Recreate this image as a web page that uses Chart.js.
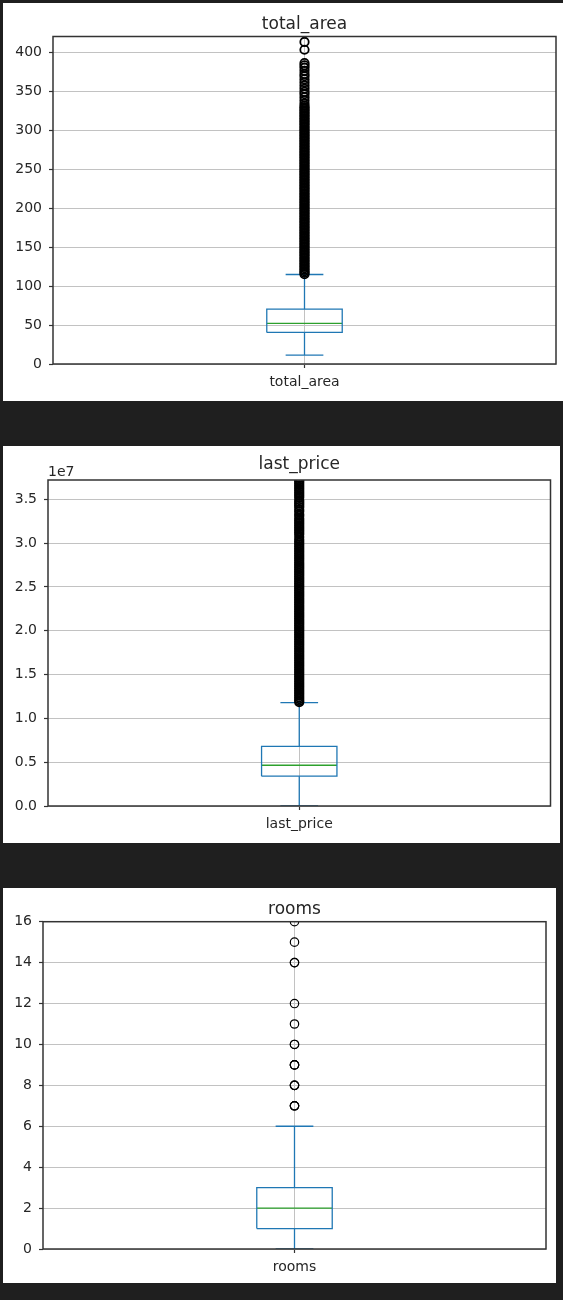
<!DOCTYPE html>
<html><head><meta charset="utf-8">
<script src="https://cdn.jsdelivr.net/npm/chart.js@4.4.1/dist/chart.umd.min.js"></script>
<style>
html,body{margin:0;padding:0;background:#1f1f1f;width:563px;height:1300px;overflow:hidden}
.panel{position:absolute;background:#ffffff}
canvas{display:block}
</style></head><body>
<div class="panel" style="left:3px;top:3px;width:560px;height:398px"><canvas id="c1" width="560" height="398"></canvas></div>
<div class="panel" style="left:3px;top:446px;width:557px;height:397px"><canvas id="c2" width="557" height="397"></canvas></div>
<div class="panel" style="left:3px;top:888px;width:553px;height:395px"><canvas id="c3" width="553" height="395"></canvas></div>
<script>
// ---------- data ----------
// stats order: lower whisker, Q1, median, Q3, upper whisker
const AREA_LABEL = 'total_area';
const AREA_STATS = [11.5, 40.5, 52, 70.5, 114.8];
const AREA_OUTLIERS = [115.2, 117, 119, 121, 123, 125, 127, 129, 131, 133, 135, 137, 139, 141, 143, 145, 147, 149, 151, 153, 155, 157, 159, 161, 163, 165, 167, 169, 171, 173, 175, 177, 179, 181, 183, 185, 187, 189, 191, 193, 195, 197, 199, 201, 203, 205, 207, 209, 211, 213, 215, 217, 219, 221, 223, 225, 227, 229, 231, 233, 235, 237, 239, 241, 243, 245, 247, 249, 251, 253, 255, 257, 259, 261, 263, 265, 267, 269, 271, 273, 275, 277, 279, 281, 283, 285, 287, 289, 291, 293, 295, 297, 299, 301, 303, 305, 307, 309, 311, 313, 315, 317, 319, 321, 323, 325, 327, 329, 331, 334, 338, 342, 346, 349, 353, 357, 361, 365, 369, 372, 376, 380, 383, 386, 403, 413];
const AREA_TICKS = [0, 50, 100, 150, 200, 250, 300, 350, 400];
const AREA_RANGE = [0, 420];

const PRICE_LABEL = 'last_price';
const PRICE_STATS = [1.219e4, 3.4e6, 4.65e6, 6.8e6, 1.18e7];
const PRICE_OUTLIERS = [1.185e7, 1.2e7, 1.22e7, 1.24e7, 1.26e7, 1.28e7, 1.3e7, 1.32e7, 1.34e7, 1.36e7, 1.38e7, 1.4e7, 1.42e7, 1.44e7, 1.46e7, 1.48e7, 1.5e7, 1.52e7, 1.54e7, 1.56e7, 1.58e7, 1.6e7, 1.62e7, 1.64e7, 1.66e7, 1.68e7, 1.7e7, 1.72e7, 1.74e7, 1.76e7, 1.78e7, 1.8e7, 1.82e7, 1.84e7, 1.86e7, 1.88e7, 1.9e7, 1.92e7, 1.94e7, 1.96e7, 1.98e7, 2e7, 2.02e7, 2.04e7, 2.06e7, 2.08e7, 2.1e7, 2.12e7, 2.14e7, 2.16e7, 2.18e7, 2.2e7, 2.22e7, 2.24e7, 2.26e7, 2.28e7, 2.3e7, 2.32e7, 2.34e7, 2.36e7, 2.38e7, 2.4e7, 2.42e7, 2.44e7, 2.46e7, 2.48e7, 2.5e7, 2.52e7, 2.54e7, 2.56e7, 2.58e7, 2.6e7, 2.62e7, 2.64e7, 2.66e7, 2.68e7, 2.7e7, 2.72e7, 2.74e7, 2.76e7, 2.78e7, 2.8e7, 2.82e7, 2.84e7, 2.86e7, 2.88e7, 2.9e7, 2.92e7, 2.94e7, 2.96e7, 2.98e7, 3e7, 3.02e7, 3.04e7, 3.07e7, 3.1e7, 3.12e7, 3.14e7, 3.16e7, 3.18e7, 3.2e7, 3.22e7, 3.24e7, 3.26e7, 3.28e7, 3.31e7, 3.33e7, 3.36e7, 3.38e7, 3.41e7, 3.43e7, 3.45e7, 3.47e7, 3.49e7, 3.52e7, 3.54e7, 3.56e7, 3.58e7, 3.6e7, 3.62e7, 3.64e7, 3.66e7, 3.68e7, 3.7e7, 3.72e7, 3.74e7];
const PRICE_TICKS = [0, 5e6, 1e7, 1.5e7, 2e7, 2.5e7, 3e7, 3.5e7];
const PRICE_RANGE = [0, 3.72e7];

const ROOMS_LABEL = 'rooms';
const ROOMS_STATS = [0, 1, 2, 3, 6];
const ROOMS_OUTLIERS = [7, 7, 7, 8, 8, 8, 9, 9, 9, 10, 10, 11, 12, 14, 14, 15, 16];
const ROOMS_TICKS = [0, 2, 4, 6, 8, 10, 12, 14, 16];
const ROOMS_RANGE = [0, 16];

// ---------- style ----------
const FONT = "'DejaVu Sans', sans-serif";
const TEXT = '#262626';
const SPINE = '#333333';
const GRID = '#c2c2c2';
const BLUE = '#1f77b4';
const GREEN = '#2ca02c';
const POS = 1, BOXW = 0.15;

const panelDeco = {
  id: 'panelDeco',
  afterDatasetsDraw(chart, args, o) {
    const {ctx, chartArea: a} = chart;
    ctx.save();
    ctx.strokeStyle = SPINE; ctx.lineWidth = 1.5;
    ctx.strokeRect(a.left, a.top, a.right - a.left, a.bottom - a.top);
    ctx.fillStyle = TEXT;
    ctx.font = '17px ' + FONT;
    ctx.textAlign = 'center'; ctx.textBaseline = 'alphabetic';
    ctx.fillText(o.text, (a.left + a.right) / 2, a.top - o.titleGap);
    if (o.offsetText) {
      ctx.font = '14px ' + FONT;
      ctx.textAlign = 'left';
      ctx.fillText(o.offsetText, a.left, a.top - 4);
    }
    ctx.restore();
  }
};

function lineDs(points, color) {
  return {type: 'scatter', data: points, showLine: true, borderColor: color, borderWidth: 1.3,
    pointRadius: 0, pointHoverRadius: 0, fill: false, tension: 0, borderCapStyle: 'butt', order: 2};
}

function makeChart(id, label, stats, outliers, ticks, range, box, fmt, titleGap, offsetText, ptBorder) {
  const canvas = document.getElementById(id);
  const W = canvas.width, H = canvas.height;
  const [lo, q1, med, q3, hi] = stats;
  const L = POS - BOXW / 2, R = POS + BOXW / 2, cL = POS - BOXW / 4, cR = POS + BOXW / 4;
  const datasets = [
    {type: 'scatter', data: outliers.map(v => ({x: POS, y: v})), pointStyle: 'circle', pointRadius: 4.2,
      pointBorderWidth: ptBorder, pointBackgroundColor: 'rgba(0,0,0,0)', pointBorderColor: '#000', clip: 0, order: 1},
    lineDs([{x: L, y: q1}, {x: R, y: q1}, {x: R, y: q3}, {x: L, y: q3}, {x: L, y: q1}], BLUE),
    lineDs([{x: POS, y: q1}, {x: POS, y: lo}], BLUE),
    lineDs([{x: POS, y: q3}, {x: POS, y: hi}], BLUE),
    lineDs([{x: cL, y: lo}, {x: cR, y: lo}], BLUE),
    lineDs([{x: cL, y: hi}, {x: cR, y: hi}], BLUE),
    lineDs([{x: L, y: med}, {x: R, y: med}], GREEN)
  ];
  return new Chart(canvas, {
    type: 'scatter',
    data: {datasets},
    options: {
      responsive: false, animation: false, devicePixelRatio: 1,
      layout: {padding: {top: box.top, left: 0, right: W - box.right, bottom: 0}},
      plugins: {legend: {display: false}, tooltip: {enabled: false}, title: {display: false},
        panelDeco: {text: label, titleGap, offsetText}},
      scales: {
        x: {type: 'linear', min: 0.5, max: 1.5,
          afterBuildTicks: s => { s.ticks = [{value: POS}]; },
          afterFit: s => { s.height = H - box.bottom; },
          ticks: {callback: () => label, font: {family: FONT, size: 14}, color: TEXT, padding: 6, maxRotation: 0, autoSkip: false},
          grid: {color: GRID, lineWidth: 1, tickLength: 4, tickColor: SPINE, tickWidth: 1.2},
          border: {display: false}},
        y: {type: 'linear', min: range[0], max: range[1],
          afterBuildTicks: s => { s.ticks = ticks.map(v => ({value: v})); },
          afterFit: s => { s.width = box.left; },
          ticks: {callback: fmt, font: {family: FONT, size: 14}, color: TEXT, padding: 7, autoSkip: false},
          grid: {color: GRID, lineWidth: 1, tickLength: 4, tickColor: SPINE, tickWidth: 1.2},
          border: {display: false}}
      }
    },
    plugins: [panelDeco]
  });
}

makeChart('c1', AREA_LABEL, AREA_STATS, AREA_OUTLIERS, AREA_TICKS, AREA_RANGE,
  {left: 50, right: 553, top: 33.5, bottom: 361}, v => String(v), 8, null, 1.8);
makeChart('c2', PRICE_LABEL, PRICE_STATS, PRICE_OUTLIERS, PRICE_TICKS, PRICE_RANGE,
  {left: 45, right: 547.5, top: 34, bottom: 360}, v => (v / 1e7).toFixed(1), 11, '1e7', 1.8);
makeChart('c3', ROOMS_LABEL, ROOMS_STATS, ROOMS_OUTLIERS, ROOMS_TICKS, ROOMS_RANGE,
  {left: 40, right: 543, top: 33.7, bottom: 361}, v => String(v), 8, null, 1.2);
</script>
</body></html>
